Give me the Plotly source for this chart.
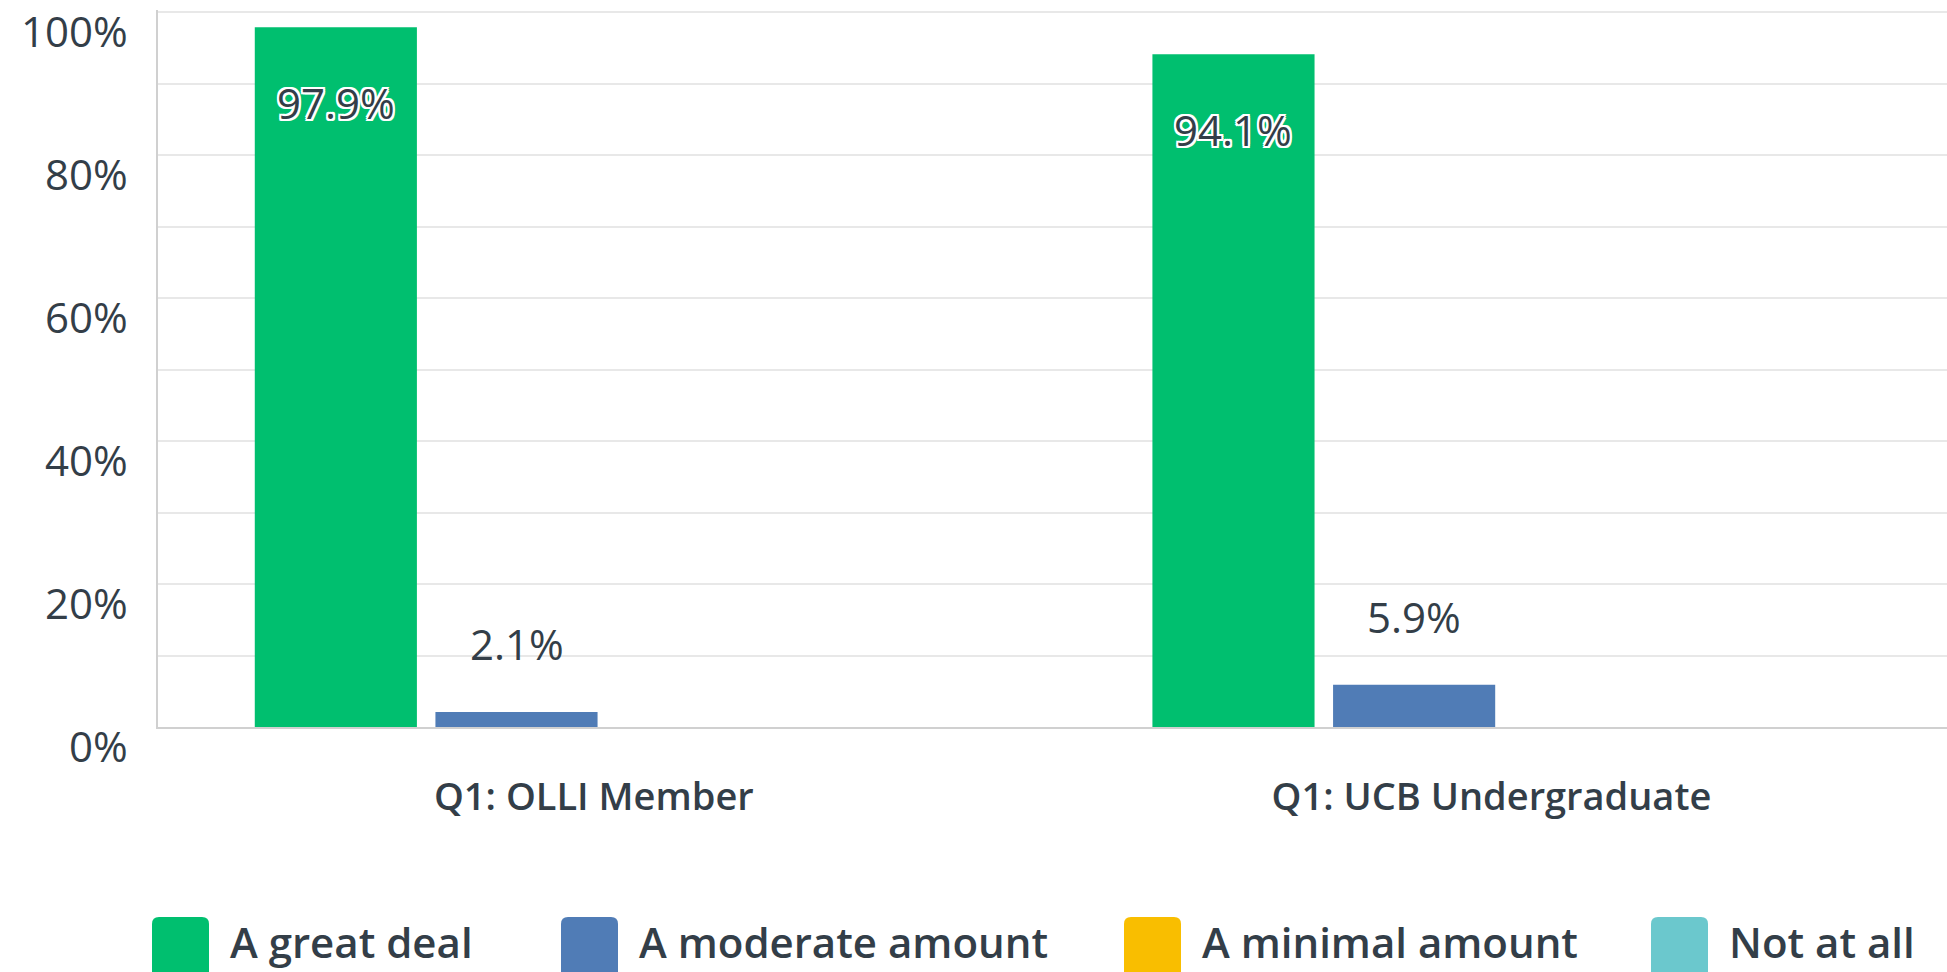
import plotly.graph_objects as go

# ---- data ----
categories = ["Q1: OLLI Member", "Q1: UCB Undergraduate"]
series_names = ["A great deal", "A moderate amount", "A minimal amount", "Not at all"]
great_deal = [97.9, 94.1]
moderate_amount = [2.1, 5.9]
minimal_amount = [0.0, 0.0]
not_at_all = [0.0, 0.0]
series_values = [great_deal, moderate_amount, minimal_amount, not_at_all]
series_colors = ["#00BF6F", "#507CB6", "#F9BE00", "#6BC8CD"]
y_tick_values = [0, 10, 20, 30, 40, 50, 60, 70, 80, 90, 100]
y_label_values = [0, 20, 40, 60, 80, 100]
y_label_texts = ["0%", "20%", "40%", "60%", "80%", "100%"]

FONT = "Open Sans"
TEXT_COLOR = "#333E48"
BARGAP = 0.195
BARGROUPGAP = 0.1025

W, H = 1947, 972
ML, MR, MT, MB = 158, 0, 10, 245
pw = W - ML - MR
ph = H - MT - MB


def px_x(p):
    return (p - ML) / pw


def px_y(p):
    return (H - MB - p) / ph


fig = go.Figure()
for name, vals, col in zip(series_names, series_values, series_colors):
    fig.add_trace(go.Bar(x=categories, y=vals, name=name, marker_color=col,
                         marker_line_width=0, showlegend=False, hoverinfo="x+y+name"))

# data labels placed at each bar's own centre
n = len(series_names)
group_w = 1 - BARGAP
slot = group_w / n
halo = "-2px -2px 0 #fff, 2px -2px 0 #fff, -2px 2px 0 #fff, 2px 2px 0 #fff, 0 2px 0 #fff, 0 -2px 0 #fff, 2px 0 0 #fff, -2px 0 0 #fff"
for j, vals in enumerate(series_values):
    off = -group_w / 2 + (j + 0.5) * slot
    for i, v in enumerate(vals):
        if v <= 0:
            continue
        inside = v > 50
        fig.add_annotation(
            x=i + off, y=v, xref="x", yref="y", text=f"{v:.1f}%", showarrow=False,
            yshift=-75 if inside else 68,
            font=dict(family=FONT, size=42, color=TEXT_COLOR,
                      shadow=halo if inside else "none"),
        )

# y tick labels (sit a little below their gridline)
for v, t in zip(y_label_values, y_label_texts):
    fig.add_annotation(x=0, y=v, xref="paper", yref="y", text=t, showarrow=False,
                       xanchor="right", yanchor="middle", xshift=-28, yshift=-18,
                       font=dict(family=FONT, size=42, color=TEXT_COLOR))


# custom legend (large rounded swatches)
def rounded_rect(x0p, x1p, y0p, y1p, r):
    x0, x1 = px_x(x0p), px_x(x1p)
    yt, yb = px_y(y0p), px_y(y1p)
    rx = r / pw
    ry = r / ph
    return (f"M {x0 + rx} {yt} L {x1 - rx} {yt} Q {x1} {yt} {x1} {yt - ry} "
            f"L {x1} {yb + ry} Q {x1} {yb} {x1 - rx} {yb} L {x0 + rx} {yb} "
            f"Q {x0} {yb} {x0} {yb + ry} L {x0} {yt - ry} Q {x0} {yt} {x0 + rx} {yt} Z")


legend_left = [152, 561, 1124, 1651]
for name, col, lx in zip(series_names, series_colors, legend_left):
    fig.add_shape(type="path", xref="paper", yref="paper",
                  path=rounded_rect(lx, lx + 57, 917, 985, 7),
                  fillcolor=col, line_width=0, layer="above")
    fig.add_annotation(xref="paper", yref="paper", x=px_x(lx + 76), y=px_y(941),
                       text=name, showarrow=False, xanchor="left", yanchor="middle",
                       font=dict(family=FONT, size=42, color=TEXT_COLOR, weight=600))

fig.update_layout(
    width=W, height=H,
    margin=dict(l=ML, r=MR, t=MT, b=MB),
    paper_bgcolor="white", plot_bgcolor="white",
    barmode="group", bargap=BARGAP, bargroupgap=BARGROUPGAP,
    showlegend=False,
    font=dict(family=FONT, color=TEXT_COLOR),
)
fig.update_xaxes(range=[-0.5, 1.493], showgrid=False, showline=True, linecolor="#D0D0D0",
                 linewidth=2, ticks="", tickfont=dict(size=38, color=TEXT_COLOR, weight=600),
                 ticklabelstandoff=35, ticklabelshift=-13, zeroline=False)
fig.update_yaxes(range=[0, 100.3], tickvals=y_tick_values, showticklabels=False,
                 showgrid=True, gridcolor="#E8E8E8", gridwidth=2, showline=True,
                 linecolor="#D0D0D0", linewidth=2, ticks="", zeroline=False)

fig.write_html("out.html", config={"displayModeBar": False},
               post_script="document.body.style.margin='0';document.body.style.overflow='hidden';")
